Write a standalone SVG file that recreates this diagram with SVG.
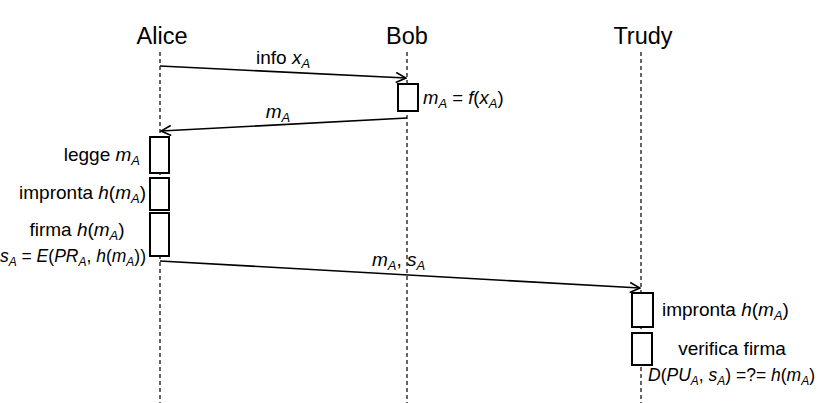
<svg xmlns="http://www.w3.org/2000/svg" width="820" height="403" viewBox="0 0 820 403">
<defs>
<style>
text{font-family:"Liberation Sans",Arial,sans-serif;fill:#000}
.title{font-size:23.5px;text-anchor:middle}
.lbl{font-size:19px}
.math{font-size:17.5px}
.it{font-style:italic}
.sub{font-size:13px;font-style:italic}
.math .sub{font-size:12px}
.life{stroke:#000;stroke-width:1.2;stroke-dasharray:4,3;fill:none}
.msg{stroke:#000;stroke-width:1.6;fill:none;marker-end:url(#arr)}
.act{fill:#fff;stroke:#000;stroke-width:2}
</style>
<marker id="arr" viewBox="0 0 12 12" refX="11" refY="6" markerWidth="12" markerHeight="12" markerUnits="userSpaceOnUse" orient="auto">
<path d="M1,1 L11,6 L1,11" fill="none" stroke="#000" stroke-width="1.6"/>
</marker>
</defs>
<rect width="820" height="403" fill="#fff"/>
<g id="alice">
<text class="title" x="162" y="44">Alice</text>
<line class="life" x1="160" y1="52" x2="160" y2="403"/>
</g>
<g id="bob">
<text class="title" x="407" y="44">Bob</text>
<line class="life" x1="407" y1="52" x2="407" y2="403"/>
</g>
<g id="trudy">
<text class="title" x="643" y="44">Trudy</text>
<line class="life" x1="641" y1="52" x2="641" y2="403"/>
</g>
<g id="connectors">
<line class="msg" x1="160" y1="66" x2="406" y2="78"/>
<text class="lbl" x="283" y="64" text-anchor="middle">info <tspan class="it">x</tspan><tspan class="sub" dy="4">A</tspan></text>
<line class="msg" x1="407" y1="118" x2="161" y2="131"/>
<text class="lbl" x="278" y="118" text-anchor="middle"><tspan class="it">m</tspan><tspan class="sub" dy="4">A</tspan></text>
<line class="msg" x1="160" y1="261" x2="640" y2="288"/>
<text class="lbl" x="372" y="266"><tspan class="it">m</tspan><tspan class="sub" dy="4">A</tspan><tspan dy="-4">, </tspan><tspan class="it">s</tspan><tspan class="sub" dy="4">A</tspan></text>
</g>
<g id="bob-compute">
<rect class="act" x="398" y="84" width="20" height="27"/>
<text class="lbl" x="423" y="104" style="font-size:18.5px"><tspan class="it">m</tspan><tspan class="sub" dy="4">A</tspan><tspan dy="-4"> = </tspan><tspan class="it">f</tspan>(<tspan class="it">x</tspan><tspan class="sub" dy="4">A</tspan><tspan dy="-4">)</tspan></text>
</g>
<g id="alice-legge">
<rect class="act" x="150" y="137" width="19" height="36"/>
<text class="lbl" x="140" y="161" text-anchor="end">legge <tspan class="it">m</tspan><tspan class="sub" dy="4">A</tspan></text>
</g>
<g id="alice-impronta">
<rect class="act" x="150" y="178" width="19" height="32"/>
<text class="lbl" x="146" y="199" text-anchor="end">impronta <tspan class="it">h</tspan>(<tspan class="it">m</tspan><tspan class="sub" dy="4">A</tspan><tspan dy="-4">)</tspan></text>
</g>
<g id="alice-firma">
<rect class="act" x="150" y="213" width="19" height="43"/>
<text class="lbl" x="77" y="236" text-anchor="middle">firma <tspan class="it">h</tspan>(<tspan class="it">m</tspan><tspan class="sub" dy="4">A</tspan><tspan dy="-4">)</tspan></text>
<text class="math" x="146" y="262" text-anchor="end"><tspan class="it">s</tspan><tspan class="sub" dy="4">A</tspan><tspan dy="-4"> = </tspan><tspan class="it">E</tspan>(<tspan class="it">PR</tspan><tspan class="sub" dy="4">A</tspan><tspan dy="-4">, </tspan><tspan class="it">h</tspan>(<tspan class="it">m</tspan><tspan class="sub" dy="4">A</tspan><tspan dy="-4">))</tspan></text>
</g>
<g id="trudy-impronta">
<rect class="act" x="632" y="293" width="21" height="34"/>
<text class="lbl" x="662" y="316">impronta <tspan class="it">h</tspan>(<tspan class="it">m</tspan><tspan class="sub" dy="4">A</tspan><tspan dy="-4">)</tspan></text>
</g>
<g id="trudy-verifica">
<rect class="act" x="632" y="333" width="20" height="32"/>
<text class="lbl" x="732" y="355" text-anchor="middle">verifica firma</text>
<text class="math" x="648" y="381"><tspan class="it">D</tspan>(<tspan class="it">PU</tspan><tspan class="sub" dy="4">A</tspan><tspan dy="-4">, </tspan><tspan class="it">s</tspan><tspan class="sub" dy="4">A</tspan><tspan dy="-4">) =?= </tspan><tspan class="it">h</tspan>(<tspan class="it">m</tspan><tspan class="sub" dy="4">A</tspan><tspan dy="-4">)</tspan></text>
</g>
</svg>
